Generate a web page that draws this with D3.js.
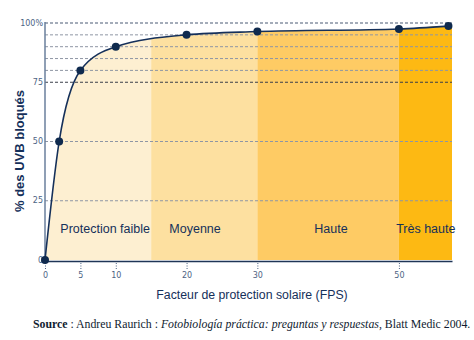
<!DOCTYPE html>
<html><head><meta charset="utf-8">
<script src="https://cdn.jsdelivr.net/npm/d3@7/dist/d3.min.js"></script>
<style>html,body{margin:0;padding:0;background:#fff;}svg{display:block;}</style>
</head><body>
<svg id="c" width="474" height="340"></svg>
<script>
// ---- data ----
const fps = [0, 2, 5, 10, 20, 30, 50, 57];
const uvbBlocked = [0, 50, 80, 90, 95, 96.4, 97.5, 98.7];
const bandNames = ["Protection faible", "Moyenne", "Haute", "Très haute"];
const bandStarts = [0, 15, 30, 50];
const bandEnds = [15, 30, 50, 57.5];
const xTicks = [0, 5, 10, 20, 30, 50];
const yTickLabels = [0, 25, 50, 75, 100];
const gridValues = [25, 50, 75, 80, 85, 90, 95, 100];

// ---- layout ----
const svg = d3.select("#c");
const x = d3.scaleLinear().domain([0, 57.5]).range([45, 452]);
const y = d3.scaleLinear().domain([0, 100]).range([260, 23]);
const bandColors = ["#fdefd1", "#fde0a0", "#fecb64", "#fdb913"];
const labelCenters = [8.5, 21.2, 40.4, 53.8];
const navy = "#15305a";

const pts = fps.map((f, i) => ({ f, v: uvbBlocked[i] }));
const areaPts = pts.concat([{ f: bandEnds[bandEnds.length - 1], v: uvbBlocked[uvbBlocked.length - 1] }]);

const area = d3.area().x(d => x(d.f)).y0(y(0)).y1(d => y(d.v)).curve(d3.curveMonotoneX);
const line = d3.line().x(d => x(d.f)).y(d => y(d.v)).curve(d3.curveMonotoneX);

svg.append("clipPath").attr("id", "under").append("path").attr("d", area(areaPts));

const bands = svg.append("g").attr("clip-path", "url(#under)");
bandNames.forEach((n, i) => {
  bands.append("rect")
    .attr("x", x(bandStarts[i])).attr("width", x(bandEnds[i]) - x(bandStarts[i]))
    .attr("y", y(100)).attr("height", y(0) - y(100))
    .attr("fill", bandColors[i]);
});

// grid
svg.append("g").selectAll("line").data(gridValues).join("line")
  .attr("x1", x(0)).attr("x2", x(57.5))
  .attr("y1", d => y(d)).attr("y2", d => y(d))
  .attr("stroke", d => d === 75 ? "#3a3f4a" : (d === 100 ? "#8791a3" : "#8e96a4"))
  .attr("stroke-width", d => d === 100 ? 1.6 : 1)
  .attr("stroke-dasharray", "3,2");

// band labels
svg.append("g").selectAll("text").data(bandNames).join("text")
  .attr("x", (d, i) => x(labelCenters[i])).attr("y", 233)
  .attr("text-anchor", "middle")
  .attr("font-family", "Liberation Sans, Arial, sans-serif")
  .attr("font-size", 12.5).attr("fill", navy)
  .text(d => d);

// y axis line
svg.append("line").attr("x1", 45).attr("x2", 45).attr("y1", y(100) - 1).attr("y2", y(0) + 1)
  .attr("stroke", "#6a7f9c").attr("stroke-width", 1.5);

// y tick labels
svg.append("g").selectAll("text").data(yTickLabels).join("text")
  .attr("x", 43).attr("y", d => y(d) + 2.5)
  .attr("text-anchor", "end")
  .attr("font-family", "DejaVu Sans, sans-serif").attr("font-size", 8)
  .attr("fill", "#4d6384")
  .text(d => d === 100 ? "100%" : d);

// x axis
const xAxis = d3.axisBottom(x).tickValues(xTicks).tickSize(0).tickPadding(0);
const gx = svg.append("g").attr("transform", `translate(0,${y(0) + 1})`).call(xAxis);
gx.select(".domain").attr("stroke", "#1f3557").attr("stroke-width", 1.6);
gx.selectAll(".tick line").remove();
gx.selectAll(".tick").append("line")
  .attr("y1", 2).attr("y2", 8).attr("stroke", "#4d6384").attr("stroke-dasharray", "1,1.5");
gx.selectAll(".tick text")
  .attr("y", 11).attr("dy", "0.71em")
  .attr("font-family", "DejaVu Sans, sans-serif").attr("font-size", 8)
  .attr("fill", "#4d6384");

// curve and points
svg.append("path").attr("d", line(pts)).attr("fill", "none")
  .attr("stroke", navy).attr("stroke-width", 1.6);
svg.append("g").selectAll("circle").data(pts).join("circle")
  .attr("cx", d => x(d.f)).attr("cy", d => y(d.v)).attr("r", 4)
  .attr("fill", "#0f2a4e");

// axis titles
svg.append("text").attr("transform", "translate(24,151) rotate(-90)")
  .attr("text-anchor", "middle")
  .attr("font-family", "Liberation Sans, Arial, sans-serif").attr("font-weight", "bold")
  .attr("font-size", 13).attr("fill", navy)
  .text("% des UVB bloqués");

svg.append("text").attr("x", 252).attr("y", 299)
  .attr("text-anchor", "middle")
  .attr("font-family", "Liberation Sans, Arial, sans-serif")
  .attr("font-size", 12.3).attr("fill", navy)
  .text("Facteur de protection solaire (FPS)");

// source
const src = svg.append("text").attr("x", 33).attr("y", 328)
  .attr("font-family", "Liberation Serif, Times New Roman, serif")
  .attr("font-size", 11.8).attr("fill", "#111c30");
src.append("tspan").attr("font-weight", "bold").text("Source");
src.append("tspan").text(" : Andreu Raurich : ");
src.append("tspan").attr("font-style", "italic").text("Fotobiología práctica: preguntas y respuestas");
src.append("tspan").text(", Blatt Medic 2004.");
</script>
</body></html>
